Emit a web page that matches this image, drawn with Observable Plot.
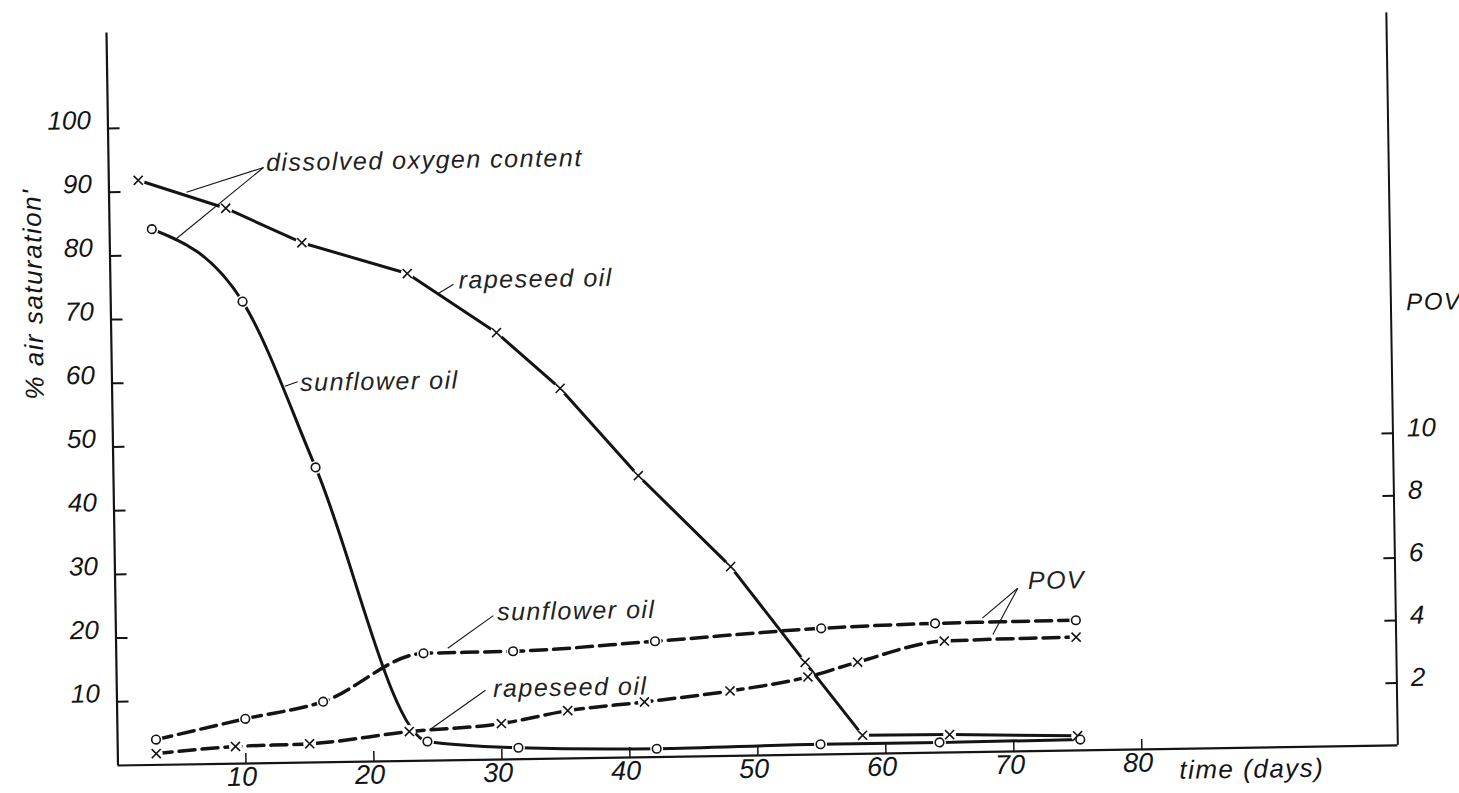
<!DOCTYPE html>
<html><head><meta charset="utf-8">
<script src="https://cdn.jsdelivr.net/npm/d3@7"></script>
<script src="https://cdn.jsdelivr.net/npm/@observablehq/plot@0.6"></script>
<style>
html,body{margin:0;padding:0;background:#fff;overflow:hidden;width:1459px;height:793px;}
#chart svg{display:block;overflow:visible;transform:rotate(-0.9deg);transform-origin:117.5px 765px;}
g[aria-label="text"] text{letter-spacing:1.5px;}
</style></head><body><div id="chart"></div>
<script>
// ---- data ----
// dissolved oxygen content, % air saturation
const rapeDoDays = [2.3, 9.1, 15.0, 23.2, 30.1, 35.0, 41.0, 48.1, 53.8, 58.2, 65.0, 75.0];
const rapeDo     = [91.8, 87.2, 81.6, 76.5, 67.0, 58.1, 44.2, 29.7, 14.5, 2.9, 2.8, 2.3];
const sunDoDays  = [3.3, 10.3, 15.8, 24.2, 31.3, 42.1, 54.9, 64.2, 75.2];
const sunDo      = [84.1, 72.5, 46.3, 3.0, 1.8, 1.3, 1.6, 1.6, 1.7];
// peroxide value (POV), right axis
const rapePovDays = [3.0, 9.2, 15.0, 22.8, 30.0, 35.2, 41.2, 47.9, 54.0, 57.9, 64.7, 75.0];
const rapePov     = [0.36, 0.55, 0.60, 0.94, 1.15, 1.53, 1.77, 2.08, 2.49, 2.94, 3.57, 3.63];
const sunPovDays  = [3.0, 10.0, 16.1, 24.0, 31.0, 42.1, 55.1, 64.0, 75.0];
const sunPov      = [0.81, 1.43, 1.94, 3.44, 3.46, 3.71, 4.04, 4.14, 4.17];
// ticks
const leftTicks = [10, 20, 30, 40, 50, 60, 70, 80, 90, 100];
const povTicks  = [2, 4, 6, 8, 10];
const xTicks    = [10, 20, 30, 40, 50, 60, 70, 80];
const K = 4.9; // POV unit expressed on the % air saturation scale

// annotations (in data coordinates)
const notes = [
  {text: "dissolved oxygen content", day: 12.3, value: 94.2},
  {text: "rapeseed oil", day: 27.2, value: 75.3},
  {text: "sunflower oil", day: 14.7, value: 59.6},
  {text: "sunflower oil", day: 29.8, value: 23.1},
  {text: "rapeseed oil", day: 29.4, value: 11.1},
  {text: "POV", day: 71.3, value: 26.7}
];
const leaders = [
  {d1: 12.1, v1: 93.5, d2: 6.05, v2: 89.8},
  {d1: 12.1, v1: 93.5, d2: 5.05, v2: 82.3},
  {d1: 26.8, v1: 74.7, d2: 25.6, v2: 73.3},
  {d1: 14.5, v1: 59.8, d2: 13.5, v2: 59.1},
  {d1: 29.5, v1: 22.6, d2: 25.9, v2: 17.6},
  {d1: 28.8, v1: 10.9, d2: 24.5, v2: 5.0},
  {d1: 70.5, v1: 25.6, d2: 67.7, v2: 21.0},
  {d1: 70.5, v1: 25.6, d2: 68.5, v2: 18.4}
];

const rows = (days, vals, series, kind) => days.map((d, i) => ({day: d, value: vals[i], series, kind}));
const doRape = rows(rapeDoDays, rapeDo, "rapeseed", "do");
const doSun = rows(sunDoDays, sunDo, "sunflower", "do");
const povRape = rows(rapePovDays, rapePov.map(v => v * K), "rapeseed", "pov");
const povSun = rows(sunPovDays, sunPov.map(v => v * K), "sunflower", "pov");
const allPts = [...doRape, ...doSun, ...povRape, ...povSun];
const ink = "#141414";

const chart = Plot.plot({
  width: 1459, height: 793,
  marginLeft: 117.5, marginRight: 61.5, marginTop: 32.4, marginBottom: 28,
  x: {domain: [0, 100]},
  y: {domain: [0, 115]},
  style: {fontFamily: "'Liberation Sans Narrow','Liberation Sans',Arial,sans-serif", fontStyle: "italic", color: ink, background: "#fff", overflow: "visible"},
  marks: [
    Plot.ruleX([0], {stroke: ink, strokeWidth: 2.2}),
    Plot.ruleX([100], {stroke: ink, strokeWidth: 2}),
    Plot.ruleY([0], {stroke: ink, strokeWidth: 2.2}),
    Plot.axisY({ticks: leftTicks, anchor: "left", tickSize: -12, tickFormat: () => "", label: null, strokeWidth: 2}),
    Plot.axisY({ticks: leftTicks, anchor: "left", tickSize: 0, tickPadding: 17, dy: -8, fontSize: 26, label: null, tickFormat: d => String(d)}),
    Plot.axisY({ticks: povTicks.map(v => v * K), anchor: "right", tickSize: -12, tickFormat: () => "", label: null, strokeWidth: 2}),
    Plot.axisY({ticks: povTicks.map(v => v * K), anchor: "right", tickSize: 0, tickPadding: 14, dy: -5, fontSize: 26, label: null, tickFormat: d => String(Math.round(d / K))}),
    Plot.axisX({ticks: xTicks, tickSize: -10, tickFormat: () => "", label: null, strokeWidth: 1.5}),
    Plot.axisX({ticks: xTicks, tickSize: 0, tickPadding: 3, dx: -4, fontSize: 27, label: null, tickFormat: d => String(d)}),
    // dissolved oxygen lines
    Plot.line(doRape, {x: "day", y: "value", curve: "linear", stroke: ink, strokeWidth: 3}),
    Plot.line(doSun, {x: "day", y: "value", curve: "monotone-x", stroke: ink, strokeWidth: 3}),
    // POV lines
    Plot.line(povRape, {x: "day", y: "value", curve: "monotone-x", stroke: ink, strokeWidth: 3.5, strokeDasharray: "16,7"}),
    Plot.line(povSun, {x: "day", y: "value", curve: "monotone-x", stroke: ink, strokeWidth: 3.5, strokeDasharray: "16,7"}),
    // gaps round markers
    Plot.dot(allPts, {x: "day", y: "value", r: 6.5, fill: "#fff", stroke: "none"}),
    Plot.dot(allPts.filter(d => d.series === "rapeseed"), {x: "day", y: "value", symbol: "times", r: 4.2, stroke: ink, strokeWidth: 1.6}),
    Plot.dot(allPts.filter(d => d.series === "sunflower"), {x: "day", y: "value", symbol: "circle", r: 4.3, fill: "#fff", stroke: ink, strokeWidth: 1.6}),
    // leaders and labels
    Plot.link(leaders, {x1: "d1", y1: "v1", x2: "d2", y2: "v2", stroke: ink, strokeWidth: 1.1}),
    Plot.text(notes, {x: "day", y: "value", text: "text", textAnchor: "start", fontSize: 25, fill: "#222"}),
    Plot.text(["% air saturation'"], {x: -6.0, y: 74.2, text: d => d, rotate: -90, fontSize: 26, fill: ink}),
    Plot.text(["POV"], {x: 101.2, y: 69.5, text: d => d, textAnchor: "start", fontSize: 24, fill: ink}),
    Plot.text(["time (days)"], {x: 82.9, y: -3.4, text: d => d, textAnchor: "start", fontSize: 26, fill: ink})
  ]
});
document.getElementById("chart").appendChild(chart);
</script>
</body></html>
